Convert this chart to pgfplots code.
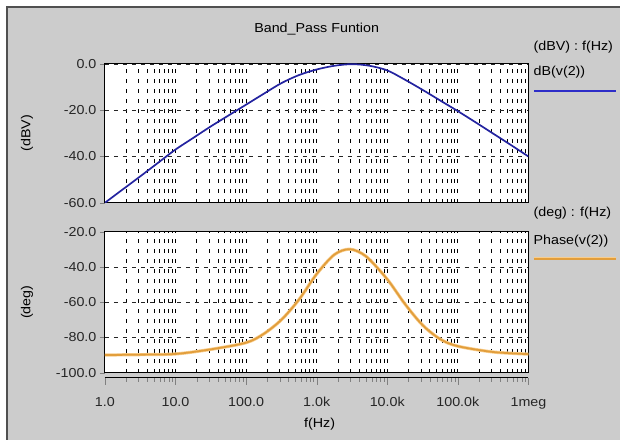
\documentclass[border=0pt]{standalone}
\usepackage{pgfplots}
\pgfplotsset{compat=1.18}
\usepackage{pgfplotstable}
\usepackage{fontspec}
\setmainfont{Liberation Sans}[FakeStretch=1.1]
\definecolor{bgc}{RGB}{204,204,204}
\definecolor{framec}{RGB}{80,80,80}
\definecolor{navy}{RGB}{35,35,160}
\definecolor{legblue}{RGB}{45,45,200}
\definecolor{orng}{RGB}{226,158,60}
\definecolor{orngl}{RGB}{248,205,140}

\pgfplotstableread{
f db
1 -60
1.778 -54.3
3.162 -48.6
5.623 -42.8
10 -37
17.78 -32
31.62 -27
56.23 -22.3
100 -17.6
177.8 -12.9
316.2 -8.3
562.3 -4.8
1000 -2.4
1778 -0.8
3162 -0.1
5623 -0.8
10000 -2.8
17780 -6.8
31620 -11.2
56230 -15.8
100000 -20.4
177800 -25.2
316200 -30.1
562300 -35
1000000 -40
}\magtable

\pgfplotstableread{
f ph
1 -90
3.162 -89.8
10 -89.4
31.62 -86.8
100 -83
177.8 -78
316.2 -70
562.3 -58.5
1000 -44
1778 -33
2951 -29.9
5012 -34
10000 -47
17780 -61
31620 -73
56230 -81
100000 -85
316200 -88.3
1000000 -89.5
}\phtable

\begin{document}
\begin{tikzpicture}
\path[fill=white] (0bp,0bp) rectangle (621bp,440bp);
\fill[bgc] (7bp,0bp) rectangle (621bp,433bp);
\draw[framec, line width=1.3bp] (7bp,0bp) -- (7bp,433bp) -- (621bp,433bp);
% top panel
\begin{axis}[at={(105bp,237bp)}, anchor=south west, scale only axis, width=424bp, height=139bp,
  xmode=log, xmin=1, xmax=1000000,
  ymin=-60, ymax=0, ytick={-60,-40,-20,0}, yticklabels={-60.0,-40.0,-20.0,0.0},
  axis background/.style={fill=white},
  axis line style={black, line width=0.9bp},
  xtick={1,10,100,1000,10000,100000,1000000},
  xticklabels={},
  major x tick style={draw=none}, minor x tick style={draw=none},
  xminorgrids=true, ymajorgrids=true,
  minor grid style={black, line width=0.8bp, dash pattern=on 3.5bp off 6.5bp},
  major grid style={black!85, line width=0.7bp, dash pattern=on 4bp off 5bp},
  ytick pos=left, tick align=outside, major tick length=5bp,
  tick label style={font=\fontsize{13bp}{15bp}\selectfont, text=black!85},
  ylabel={(dBV)},
  ylabel style={font=\fontsize{13bp}{15bp}\selectfont, at={(axis description cs:-0.184,0.5)}, anchor=center},
  title={Band\_Pass Funtion},
  title style={font=\fontsize{13bp}{15bp}\selectfont, yshift=19bp}]
\addplot[navy, line width=1.7bp, smooth, tension=0.5] table[x=f, y=db] {\magtable};
\end{axis}
% bottom panel
\begin{axis}[at={(105bp,67bp)}, anchor=south west, scale only axis, width=424bp, height=141bp,
  xmode=log, xmin=1, xmax=1000000,
  ymin=-100, ymax=-20, ytick={-100,-80,-60,-40,-20}, yticklabels={-100.0,-80.0,-60.0,-40.0,-20.0},
  axis background/.style={fill=white},
  axis line style={black, line width=0.9bp},
  xtick={1,10,100,1000,10000,100000,1000000},
  xticklabels={},
  major x tick style={draw=none}, minor x tick style={draw=none},
  xminorgrids=true, ymajorgrids=true,
  minor grid style={black, line width=0.8bp, dash pattern=on 3.5bp off 6.5bp},
  major grid style={black!85, line width=0.7bp, dash pattern=on 4bp off 5bp},
  ytick pos=left, tick align=outside, major tick length=5bp,
  tick label style={font=\fontsize{13bp}{15bp}\selectfont, text=black!85},
  ylabel={(deg)},
  ylabel style={font=\fontsize{13bp}{15bp}\selectfont, at={(axis description cs:-0.184,0.5)}, anchor=center}]
\addplot[orngl, line width=3.2bp, smooth, tension=0.5] table[x=f, y=ph] {\phtable};
\addplot[orng, line width=1.8bp, smooth, tension=0.5] table[x=f, y=ph] {\phtable};
\end{axis}
% frequency axis
\begin{axis}[at={(105bp,62bp)}, anchor=south west, scale only axis, width=424bp, height=1bp,
  xmode=log, xmin=1, xmax=1000000, ymin=0, ymax=1,
  axis x line=bottom, axis y line=none, x axis line style={-, black, line width=0.9bp},
  tick align=outside, major tick length=7bp, minor tick length=4bp,
  xtick={1,10,100,1000,10000,100000,1000000},
  xticklabels={1.0,10.0,100.0,1.0k,10.0k,100.0k,1meg},
  tick label style={font=\fontsize{13bp}{15bp}\selectfont, text=black!85},
  xticklabel style={yshift=-9bp},
  xlabel={f(Hz)},
  xlabel style={font=\fontsize{13bp}{15bp}\selectfont, yshift=-3bp, xshift=3bp}]
\addplot[draw=none] coordinates {(1,0) (1000000,0)};
\end{axis}
% right-hand trace labels
\node[anchor=west, inner sep=0pt, font=\fontsize{13bp}{15bp}\selectfont] at (534bp,393bp) {(dBV) : f(Hz)};
\node[anchor=west, inner sep=0pt, font=\fontsize{13bp}{15bp}\selectfont] at (534bp,368bp) {dB(v(2))};
\draw[legblue, line width=2.6bp] (535bp,349bp) -- (617bp,349bp);
\node[anchor=west, inner sep=0pt, font=\fontsize{13bp}{15bp}\selectfont] at (534bp,227bp) {(deg) : f(Hz)};
\node[anchor=west, inner sep=0pt, font=\fontsize{13bp}{15bp}\selectfont] at (534bp,199bp) {Phase(v(2))};
\draw[orngl, line width=3.4bp] (535bp,181bp) -- (617bp,181bp);
\draw[orng, line width=2bp] (535bp,181bp) -- (617bp,181bp);
\end{tikzpicture}
\end{document}
